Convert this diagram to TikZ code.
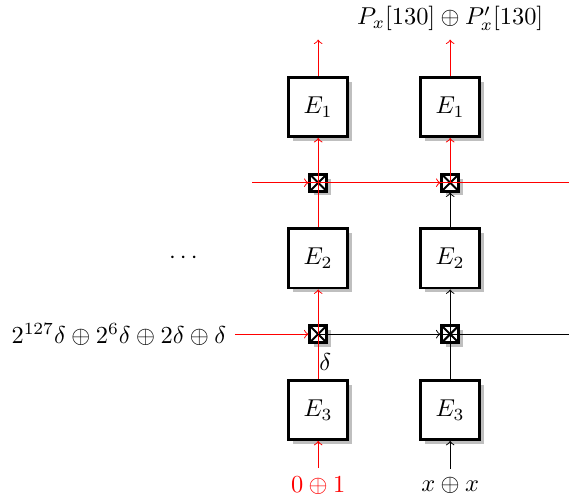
\documentclass[tikz,border=0pt]{standalone}
\usetikzlibrary{shadows,positioning}

\tikzset{
  shade box/.style={drop shadow={shadow xshift=0.6mm, shadow yshift=-0.6mm, fill=black!25, opacity=1}},
  enc/.style={draw, very thick, fill=white, minimum size=0.85cm, inner sep=0pt, shade box},
  xorbox/.style={draw, very thick, fill=white, minimum size=0.24cm, inner sep=0pt, shade box,
    path picture={\draw[thick] (path picture bounding box.north west) -- (path picture bounding box.south east)
      (path picture bounding box.north east) -- (path picture bounding box.south west);}},
}

\begin{document}
\begin{tikzpicture}[>=to]
  \useasboundingbox (-4.58,-1.31) rectangle (3.61,5.90);

  % two columns of encryptions
  \foreach \c/\xc in {a/0, b/1.9} {
    \node[enc] (e3\c) at (\xc,0) {$E_3$};
    \node[xorbox] (x1\c) at (\xc,1.09) {};
    \node[enc] (e2\c) at (\xc,2.18) {$E_2$};
    \node[xorbox] (x2\c) at (\xc,3.27) {};
    \node[enc] (e1\c) at (\xc,4.36) {$E_1$};
  }

  % inputs and outputs
  \node[red] (ina) at (0,-1.09) {$0\oplus1$};
  \node (inb) at (1.9,-1.09) {$x\oplus x$};
  \coordinate (outa) at (0,5.33);
  \coordinate (outb) at (1.9,5.33);
  \node[above] (lblout) at (outb) {$P_x[130]\oplus P'_x[130]$};

  \coordinate (ra) at (-1.2,1.09);
  \coordinate (rb) at (3.61,1.09);
  \coordinate (sa) at (-0.95,3.27);
  \coordinate (sb) at (3.61,3.27);
  \node[left] (lbldelta) at (ra) {$2^{127}\delta\oplus2^{6}\delta\oplus2\delta\oplus\delta$};
  \node (dots) at (-1.94,2.18) {$\cdots$};
  \node (dl) at (0.1,0.69) {$\delta$};

  % left column
  \draw[red,->] (ina) -- (e3a);
  \draw[red,->] (e3a) -- (e2a);
  \draw[red,->] (e2a) -- (e1a);
  \draw[red,->] (e1a) -- (outa);

  % right column
  \draw[->] (inb) -- (e3b);
  \draw[->] (e3b) -- (e2b);
  \draw[->] (e2b) -- (x2b);
  \draw[red] (x2b.center) -- (x2b.north);
  \draw[red,->] (x2b) -- (e1b);
  \draw[red,->] (e1b) -- (outb);

  % lower row
  \draw[red,->] (ra) -- (x1a);
  \draw (x1a.center) -- (rb);
  \draw[->] (x1a) -- (x1b);

  % upper row
  \draw[red] (sa) -- (sb);
  \draw[red,->] (sa) -- (x2a);
  \draw[red,->] (x2a) -- (x2b);
\end{tikzpicture}
\end{document}
